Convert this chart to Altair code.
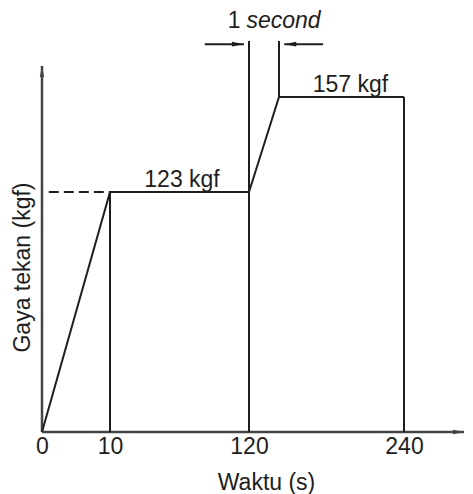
import altair as alt
import pandas as pd

# ---- data (schematic loading profile) ----
time_s = [0, 10, 120, 121, 240]
force_kgf = [0, 123, 123, 157, 157]

# vertical lines: x position, bottom, top
drop_x = [10, 120, 121, 240]
drop_y0 = [0, 0, 157, 0]
drop_y1 = [123, 196, 196, 157]

# dashed reference to the y axis
dash_x = [1, 10]
dash_y = [123, 123]

# x tick values
tick_values = [0, 10, 120, 240]

# schematic (not-to-scale) breakpoints of the axes
x_breaks = [0, 10, 120, 121, 240, 300]
x_pixels = [0, 68, 207, 237, 362, 422]
y_breaks = [0, 123, 157, 180, 196]
y_pixels = [424, 184, 89, 58, 33]

axis_x_end = 300
axis_y_end = 180

# "1 second" marker arrows
arrow_tail_x = [85, 163]
arrow_head_x = [116, 126]
arrow_y = [194, 194]

# labels
label_text = ["123 kgf", "157 kgf"]
label_x = [67, 189]
label_y = [123, 157]
marker_x = [118]
marker_y = [196]

FONT = "Liberation Sans"
FS = 23
INK = "#1e1e1e"
AXIS_INK = "#444444"

xs = alt.Scale(domain=x_breaks, range=x_pixels, nice=False, zero=False)
ys = alt.Scale(domain=y_breaks, range=y_pixels, nice=False, zero=False)

x_axis = alt.Axis(values=tick_values, domain=False, ticks=False, grid=False,
                  labelFont=FONT, labelFontSize=FS, labelColor=INK, labelPadding=3,
                  labelFlush=False,
                  title="Waktu (s)", titleFont=FONT, titleFontSize=FS, titleFontWeight="normal",
                  titleColor=INK, titleX=224, titleY=57, titleAlign="center",
                  titleBaseline="alphabetic")
y_axis = alt.Axis(values=[], domain=False, ticks=False, grid=False, labels=False,
                  title="Gaya tekan (kgf)", titleFont=FONT, titleFontSize=FS,
                  titleFontWeight="normal", titleColor=INK, titleX=-20, titleY=259,
                  titleAngle=270, titleAlign="center", titleBaseline="middle")


def X(f):
    return alt.X(f, type="quantitative", scale=xs, axis=x_axis)


def Y(f):
    return alt.Y(f, type="quantitative", scale=ys, axis=y_axis)


profile = pd.DataFrame({"t": time_s, "f": force_kgf, "i": range(len(time_s))})
drops = pd.DataFrame({"t": drop_x, "y0": drop_y0, "y1": drop_y1})
dash = pd.DataFrame({"t": dash_x, "f": dash_y})
labels = pd.DataFrame({"t": label_x, "f": label_y, "txt": label_text})
xaxis_df = pd.DataFrame({"t": [0], "t2": [axis_x_end], "f": [0]})
yaxis_df = pd.DataFrame({"t": [0], "f": [0], "f2": [axis_y_end]})
xhead = pd.DataFrame({"t": [axis_x_end], "f": [0]})
yhead = pd.DataFrame({"t": [0], "f": [axis_y_end]})
shafts = pd.DataFrame({"t": arrow_tail_x, "t2": arrow_head_x, "f": arrow_y})
right_heads = pd.DataFrame({"t": [arrow_head_x[0]], "f": [arrow_y[0]]})
left_heads = pd.DataFrame({"t": [arrow_head_x[1]], "f": [arrow_y[1]]})
marker = pd.DataFrame({"t": marker_x, "f": marker_y})

RIGHT = "M0,0 L-1,-0.2 L-1,0.2 Z"
LEFT = "M0,0 L1,-0.2 L1,0.2 Z"
UP = "M0,0 L-0.2,1 L0.2,1 Z"

layers = [
    alt.Chart(xaxis_df).mark_rule(color=AXIS_INK, strokeWidth=2.5).encode(
        x=X("t"), x2="t2", y=Y("f")),
    alt.Chart(yaxis_df).mark_rule(color=AXIS_INK, strokeWidth=2.5).encode(
        x=X("t"), y=Y("f"), y2="f2"),
    alt.Chart(xhead).mark_point(shape=RIGHT, filled=True, size=484, color=AXIS_INK, opacity=1).encode(
        x=X("t"), y=Y("f")),
    alt.Chart(yhead).mark_point(shape=UP, filled=True, size=484, color=AXIS_INK, opacity=1).encode(
        x=X("t"), y=Y("f")),
    alt.Chart(dash).mark_line(color=INK, strokeWidth=2, strokeDash=[10, 5]).encode(
        x=X("t"), y=Y("f")),
    alt.Chart(drops).mark_rule(color=INK, strokeWidth=2).encode(
        x=X("t"), y=Y("y0"), y2="y1"),
    alt.Chart(profile).mark_line(color=INK, strokeWidth=2).encode(
        x=X("t"), y=Y("f"), order="i:Q"),
    alt.Chart(shafts).mark_rule(color=INK, strokeWidth=2).encode(
        x=X("t"), x2="t2", y=Y("f")),
    alt.Chart(right_heads).mark_point(shape=RIGHT, filled=True, size=576, color=INK, opacity=1).encode(
        x=X("t"), y=Y("f")),
    alt.Chart(left_heads).mark_point(shape=LEFT, filled=True, size=576, color=INK, opacity=1).encode(
        x=X("t"), y=Y("f")),
    alt.Chart(labels).mark_text(font=FONT, fontSize=FS, color=INK, align="center",
                                baseline="alphabetic", dy=-5).encode(
        x=X("t"), y=Y("f"), text="txt:N"),
    alt.Chart(marker).mark_text(text="1", font=FONT, fontSize=FS, color=INK, align="right",
                                baseline="alphabetic", dx=-6, dy=-13).encode(
        x=X("t"), y=Y("f")),
    alt.Chart(marker).mark_text(text="second", font=FONT, fontSize=FS, fontStyle="italic",
                                color=INK, align="left", baseline="alphabetic", dy=-13).encode(
        x=X("t"), y=Y("f")),
]

chart = alt.layer(*layers).properties(
    width=423, height=424,
    padding={"left": 34, "top": 0, "right": 0, "bottom": 62},
    autosize=alt.AutoSizeParams(type="none"),
    background="white",
).configure_view(stroke=None)

chart.save("out.html", embed_options={"renderer": "svg", "actions": False})
